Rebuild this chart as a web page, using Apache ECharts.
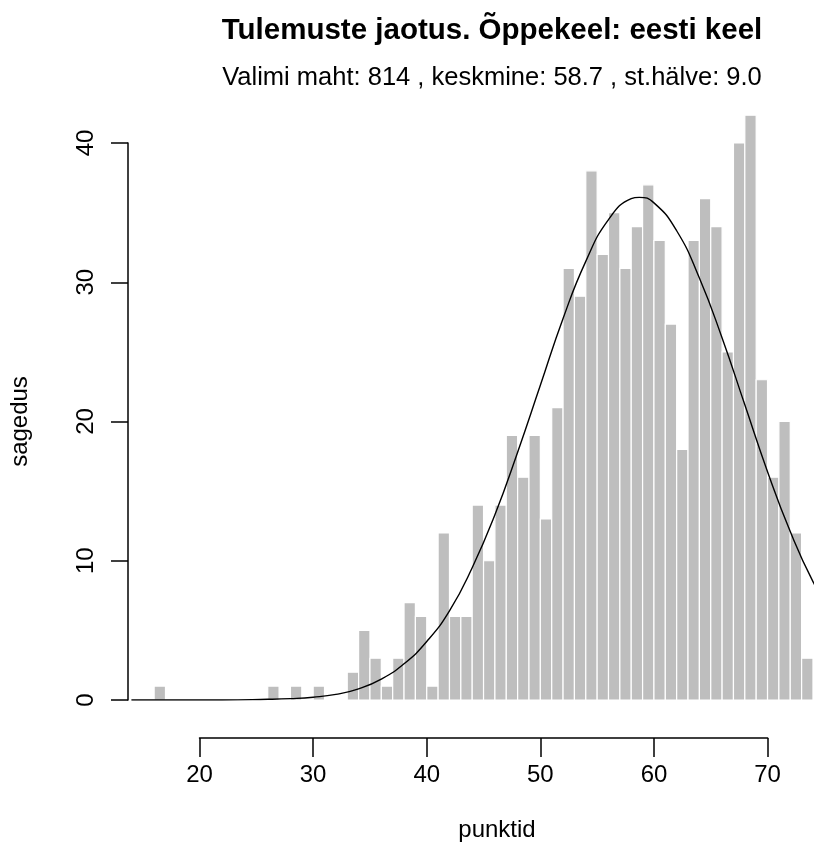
<!DOCTYPE html>
<html>
<head>
<meta charset="utf-8">
<title>Tulemuste jaotus</title>
<script src="https://cdn.jsdelivr.net/npm/echarts@6.0.0/dist/echarts.min.js"></script>
<style>
  body { margin: 0; background: #fff; }
  #chartsDOM { width: 814px; height: 847px; }
</style>
</head>
<body>
<div id="chartsDOM"></div>
<script>
// histogrammi klassid (vasak serv, laius 1 punkt)
const binStart = [14, 15, 16, 17, 18, 19, 20, 21, 22, 23, 24, 25, 26, 27, 28, 29, 30, 31, 32, 33,
  34, 35, 36, 37, 38, 39, 40, 41, 42, 43, 44, 45, 46, 47, 48, 49, 50, 51, 52, 53,
  54, 55, 56, 57, 58, 59, 60, 61, 62, 63, 64, 65, 66, 67, 68, 69, 70, 71, 72, 73];
const counts = [0, 0, 1, 0, 0, 0, 0, 0, 0, 0, 0, 0, 1, 0, 1, 0, 1, 0, 0, 2,
  5, 3, 1, 3, 7, 6, 1, 12, 6, 6, 14, 10, 14, 19, 16, 19, 13, 21, 31, 29,
  38, 32, 35, 31, 34, 37, 33, 27, 18, 33, 36, 34, 25, 40, 42, 23, 16, 20, 12, 3];

// normaaljaotuse kõver (loetud pildilt)
const curveX = [14, 18, 22, 26, 28, 30, 32, 34, 36, 38, 40, 42, 44, 46, 48, 50, 52, 54, 56, 58, 58.7,
  60, 62, 64, 66, 68, 70, 72, 74, 76, 78];
const curveY = [0, 0, 0, 0.05, 0.1, 0.2, 0.4, 0.8, 1.5, 2.6, 4.2, 6.4, 9.5, 13.3, 17.8, 22.6, 27.4, 31.5, 34.5, 36.0, 36.1,
  35.7, 33.7, 30.3, 26.0, 21.2, 16.4, 12.1, 8.5, 5.7, 3.6];

const xTicks = [20, 70, 10];   // min, max, samm
const yTicks = [0, 40, 10];

const mainTitle = 'Tulemuste jaotus. Õppekeel: eesti keel';
const subTitle = 'Valimi maht: 814 , keskmine: 58.7 , st.hälve: 9.0';

const FONT = 'Liberation Sans, Arial, sans-serif';

function init() {
  const chart = echarts.init(document.getElementById('chartsDOM'));

  const barData = binStart.map((s, i) => [s, s + 1, counts[i]]).filter(d => d[2] > 0);
  const lineData = curveX.map((x, i) => [x, curveY[i]]);

  const options = {
    animation: false,
    backgroundColor: '#fff',
    title: [
      {
        text: mainTitle,
        left: 487,
        top: 11,
        textAlign: 'center',
        textStyle: { fontFamily: FONT, fontSize: 29.5, fontWeight: 'bold', color: '#000' }
      },
      {
        text: subTitle,
        left: 487,
        top: 60,
        textAlign: 'center',
        textStyle: { fontFamily: FONT, fontSize: 25.5, fontWeight: 'normal', color: '#000' }
      }
    ],
    graphic: [
      {
        type: 'text',
        x: 497,
        y: 830,
        style: {
          text: 'punktid',
          font: '24px ' + FONT,
          fill: '#000',
          textAlign: 'center',
          textVerticalAlign: 'middle'
        }
      }
    ],
    grid: [
      // andmed, pilt lõikab parema serva ära
      { left: 128, right: 0, top: 73.4, bottom: 147 },
      // x telg
      { left: 199.5, right: 46.4, top: 600, bottom: 109 },
      // y telg
      { left: 128, width: 10, top: 143, bottom: 147 }
    ],
    xAxis: [
      { gridIndex: 0, type: 'value', min: 13.7, max: 74.09, show: false },
      {
        gridIndex: 1, type: 'value', min: xTicks[0], max: xTicks[1], interval: xTicks[2],
        axisLine: { onZero: false, lineStyle: { color: '#000', width: 1.5 } },
        axisTick: { inside: false, length: 19, lineStyle: { color: '#000', width: 1.5 } },
        axisLabel: { margin: 25, fontFamily: FONT, fontSize: 24, color: '#000' },
        splitLine: { show: false }
      },
      { gridIndex: 2, type: 'value', show: false }
    ],
    yAxis: [
      { gridIndex: 0, type: 'value', min: 0, max: 45, show: false },
      { gridIndex: 1, type: 'value', min: 0, max: 1, show: false },
      {
        gridIndex: 2, type: 'value', min: yTicks[0], max: yTicks[1], interval: yTicks[2],
        name: 'sagedus',
        nameLocation: 'middle',
        nameRotate: 90,
        nameGap: 96,
        nameTextStyle: { fontFamily: FONT, fontSize: 24, color: '#000' },
        axisLine: { show: true, onZero: false, lineStyle: { color: '#000', width: 1.5 } },
        axisTick: { show: true, inside: false, length: 17, lineStyle: { color: '#000', width: 1.5 } },
        axisLabel: { rotate: 90, margin: 30, fontFamily: FONT, fontSize: 24, color: '#000' },
        splitLine: { show: false }
      }
    ],
    series: [
      {
        name: 'sagedus',
        type: 'custom',
        xAxisIndex: 0,
        yAxisIndex: 0,
        encode: { x: [0, 1], y: 2 },
        renderItem: function (params, api) {
          const p0 = api.coord([api.value(0), 0]);
          const p1 = api.coord([api.value(1), api.value(2)]);
          return {
            type: 'rect',
            shape: { x: p0[0], y: p1[1], width: p1[0] - p0[0], height: p0[1] - p1[1] },
            style: { fill: '#bebebe', stroke: '#fff', lineWidth: 1.2 }
          };
        },
        data: barData
      },
      {
        name: 'normaaljaotus',
        type: 'line',
        xAxisIndex: 0,
        yAxisIndex: 0,
        smooth: true,
        showSymbol: false,
        lineStyle: { color: '#000', width: 1.4 },
        data: lineData
      }
    ]
  };
  chart.setOption(options);
}

init();
</script>
</body>
</html>
